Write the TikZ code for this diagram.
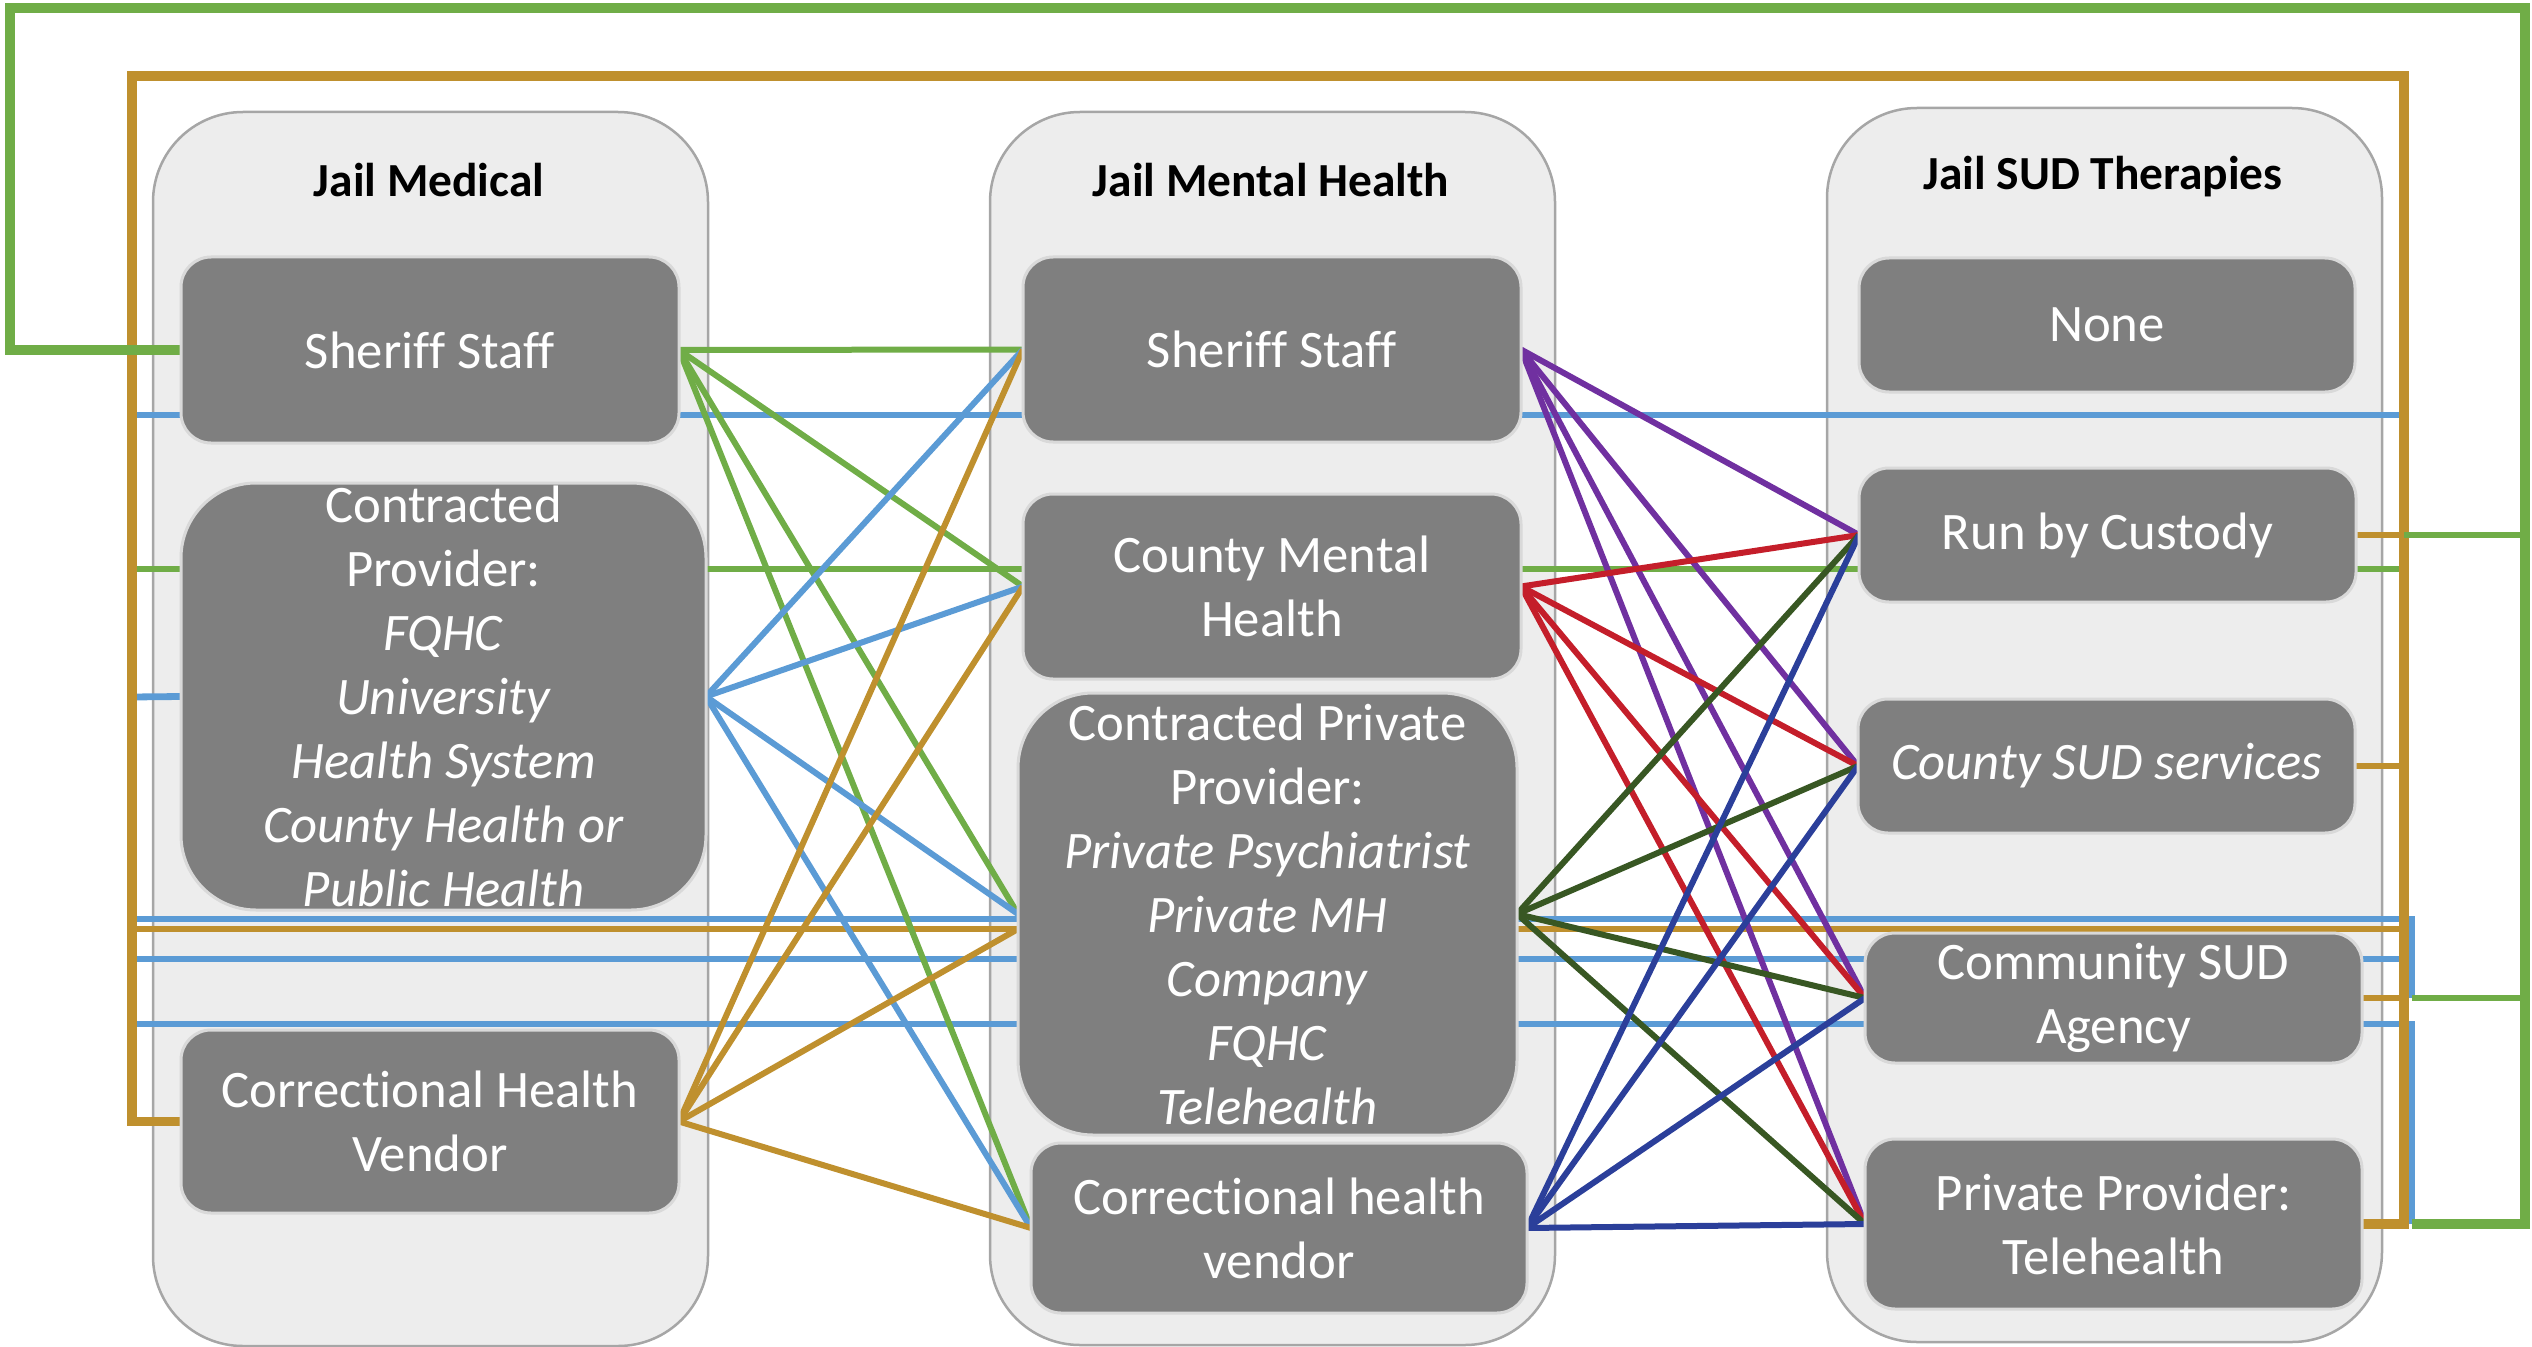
\documentclass[tikz,border=0pt]{standalone}
\usepackage{fontspec}
\setmainfont{Carlito}[Ligatures=NoCommon]
\definecolor{panelfill}{HTML}{EDEDED}
\definecolor{panelline}{HTML}{A6A6A6}
\definecolor{boxfill}{HTML}{7F7F7F}
\definecolor{boxline}{HTML}{D9D9D9}
\definecolor{cgreen}{HTML}{70AD47}
\definecolor{cgold}{HTML}{BF902E}
\definecolor{cblue}{HTML}{5B9BD5}
\definecolor{cpurple}{HTML}{7030A0}
\definecolor{cred}{HTML}{C41E2A}
\definecolor{cdkgreen}{HTML}{385723}
\definecolor{cdkblue}{HTML}{2B3F9A}
\newcommand{\boxfont}{\fontsize{15}{18.2}\selectfont}
\newcommand{\ttlfont}{\fontsize{13.5}{16}\selectfont\bfseries}
\newcommand{\rbox}[7][gbox]{
\path ({(#3+#5)/2},{(#4+#6)/2}) node[#1,minimum width={(#5-#3)*0.1mm},minimum height={(#6-#4)*0.1mm}] (#2) {#7};
}
\pgfdeclarelayer{back}
\pgfdeclarelayer{wires}
\pgfsetlayers{back,wires,main}

\begin{document}
\begin{tikzpicture}[x=0.1mm,y=-0.1mm,
  panel/.style={draw=panelline,fill=panelfill,line width=0.25mm,rounded corners=9mm,inner sep=0pt,outer sep=0pt},
  gbox/.style={draw=boxline,fill=boxfill,line width=0.3mm,rounded corners=3mm,inner sep=0pt,outer sep=0pt,text=white,align=center,font=\boxfont},
  bigbox/.style={gbox,rounded corners=7.5mm},
  ttl/.style={font=\ttlfont},
  lnk/.style={line width=0.6mm},
  bus/.style={line width=0.68mm},
  loop/.style={line width=0.95mm}]
\useasboundingbox (0,0) rectangle (2532,1347);
\begin{pgfonlayer}{back}
\rbox[panel]{pmed}{153}{112}{708}{1346}{}
\rbox[panel]{pmh}{990}{112}{1555}{1345}{}
\rbox[panel]{psud}{1827}{108}{2382}{1342}{}
\end{pgfonlayer}
\path (429,180) node[ttl] (tmed) {Jail Medical};
\path (1271,180) node[ttl] (tmh) {Jail Mental Health};
\path (2103,177) node[ttl] (tsud) {Jail SUD Therapies};
% jail medical
\rbox{ls}{181}{257}{679}{443}{Sheriff Staff}
\rbox[bigbox]{lc}{181}{483}{706}{910}{Contracted\\Provider:\\\textit{FQHC}\\\textit{University}\\\textit{Health System}\\\textit{County Health or}\\\textit{Public Health}}
\rbox{lv}{181}{1030}{679}{1213}{Correctional Health\\Vendor}
% jail mental health
\rbox{ms}{1023}{257}{1521}{442}{Sheriff Staff}
\rbox{mc}{1023}{494}{1521}{679}{County Mental\\Health}
\rbox[bigbox]{mp}{1018}{693}{1517}{1135}{Contracted Private\\Provider:\\\textit{Private Psychiatrist}\\\textit{Private MH}\\\textit{Company}\\\textit{FQHC}\\\textit{Telehealth}}
\rbox{mv}{1031}{1143}{1527}{1313}{Correctional health\\vendor}
% jail SUD therapies
\rbox{rn}{1859}{258}{2355}{392}{None}
\rbox{rc}{1859}{468}{2356}{602}{Run by Custody}
\rbox{rs}{1858}{699}{2355}{833}{\textit{County SUD services}}
\rbox{ra}{1865}{933}{2362}{1063}{Community SUD\\Agency}
\rbox{rp}{1865}{1139}{2362}{1309}{Private Provider:\\Telehealth}

\begin{pgfonlayer}{wires}
\coordinate (gL) at (132,76);
\coordinate (gR) at (2404,76);
\coordinate (nL) at (10,8);
\coordinate (nR) at (2525,8);
\coordinate (bT) at (2412,919);
\coordinate (bB) at (2412,1224);
% straight runs
\draw[bus,cblue] (132,415) -- (2404,415);
\draw[bus,cblue] (132,697) -- (lc.west);
\draw[bus,cblue] (132,919) -| (bT |- ra.east);
\draw[bus,cblue] (132,959) -- (2404,959);
\draw[bus,cblue] (132,1024) -| (bB);
\draw[bus,cgreen] (132,569) -- (2404,569);
\draw[bus,cgold] (132,929) -- (2404,929);
%\draw[bus,cblue] (132,415) -- (132,1024);
\draw[loop,cgold] (lv.west) -| (gL) -- (gR) |- (rp.east);
\foreach \n in {rc,rs,ra}
  \draw[bus,cgold] (\n.east) -- (gR |- \n.east);
\draw[loop,cgreen] (ls.west) -| (nL) -- (nR) |- (bB);
\draw[bus,cgreen] (nR |- rc.east) -- (gR |- rc.east);
\draw[bus,cgreen] (nR |- ra.east) -- (bT |- ra.east);
% medical to mental health
\foreach \t in {ms,mc,mp,mv}
  \draw[lnk,cgreen] (ls.east) -- (\t.west);
\foreach \t in {ms,mc,mp,mv}
  \draw[lnk,cblue] (lc.east) -- (\t.west);
\draw[lnk,cgold] (lv.east) -- (ms.west);
\draw[lnk,cgold] (lv.east) -- (mc.west);
\draw[lnk,cgold] (lv.east) -- ([yshift=-1.5mm]mp.west);
\draw[lnk,cgold] (lv.east) -- (mv.west);
% mental health to SUD
\foreach \t in {rc,rs,ra,rp}
  \draw[lnk,cpurple] (ms.east) -- (\t.west);
\foreach \t in {rc,rs,ra,rp}
  \draw[lnk,cred] (mc.east) -- (\t.west);
\foreach \t in {rc,rs,ra,rp}
  \draw[lnk,cdkgreen] (mp.east) -- (\t.west);
\foreach \t in {rc,rs,ra,rp}
  \draw[lnk,cdkblue] (mv.east) -- (\t.west);
\end{pgfonlayer}
\end{tikzpicture}
\end{document}
